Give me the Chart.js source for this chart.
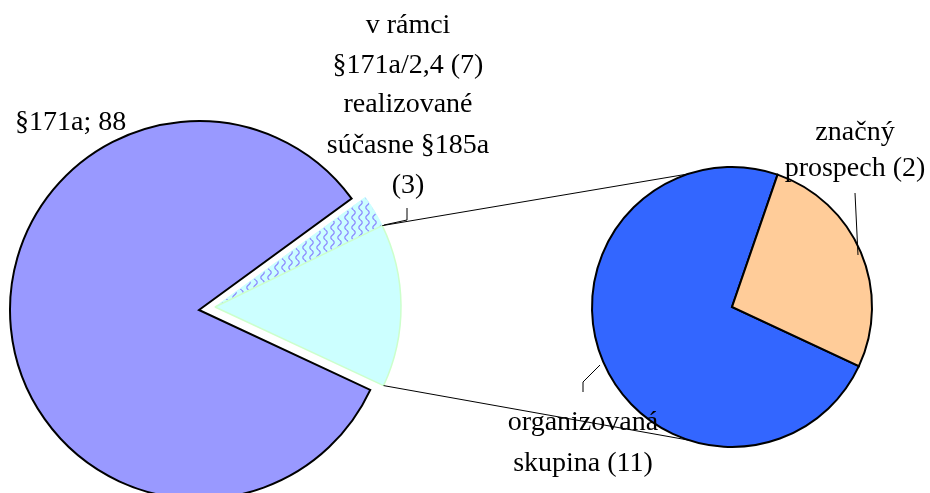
<!DOCTYPE html>
<html>
<head>
<meta charset="utf-8">
<script src="https://cdn.jsdelivr.net/npm/chart.js@4"></script>
<style>
body{margin:0;background:#fff;}
#wrap{position:relative;width:930px;height:493px;overflow:hidden;}
canvas{position:absolute;left:0;top:0;}
</style>
</head>
<body>
<div id="wrap">
<canvas id="mainA" width="930" height="493"></canvas>
<canvas id="mainB" width="930" height="493"></canvas>
<canvas id="second" width="930" height="493"></canvas>
</div>
<script>
'use strict';

// values
const mainCategories = ['§171a', 'v rámci §171a/2,4 (7) realizované súčasne §185a (3)', 'ostatné'];
const mainValues = [88, 3, 15];
const secondCategories = ['organizovaná skupina (11)', 'značný prospech (2)'];
const secondValues = [11, 4];

const labelLines = [
  ['§171a; 88'],
  ['v rámci', '§171a/2,4 (7)', 'realizované', 'súčasne §185a', '(3)'],
  ['organizovaná', 'skupina (11)'],
  ['značný', 'prospech (2)']
];

// label placement (x, align, baselines)
const labelPos = [
  {x: 15, align: 'left', y: [130]},
  {x: 408, align: 'center', y: [33, 73, 112, 153, 193]},
  {x: 583, align: 'center', y: [430, 471]},
  {x: 855, align: 'center', y: [140, 176]}
];
const leaders = [
  [[407, 208], [407, 220], [384, 225]],
  [[855, 193], [858, 255]],
  [[583, 392], [583, 382], [600, 365]]
];

function makePattern() {
  let c = document.createElement('canvas');
  c.width = 7; c.height = 10;
  let g = c.getContext('2d');
  g.fillStyle = '#CCFFFF';
  g.fillRect(0, 0, 7, 10);
  g.strokeStyle = '#8F8FFF';
  g.lineWidth = 1.3;
  g.beginPath();
  for (let y = 0; y <= 10; y++) {
    let x = 3.5 + 1.7 * Math.sin(y / 10 * 2 * Math.PI);
    if (y === 0) g.moveTo(x, y); else g.lineTo(x, y);
  }
  g.stroke();
  return g.createPattern(c, 'repeat');
}

const common = {
  responsive: false,
  animation: false,
  events: [],
  rotation: 115,
  plugins: {legend: {display: false}, tooltip: {enabled: false}}
};

const chartA = new Chart(document.getElementById('mainA'), {
  type: 'pie',
  data: {
    labels: mainCategories,
    datasets: [{
      data: mainValues,
      backgroundColor: ['#9999FF', 'rgba(0,0,0,0)', 'rgba(0,0,0,0)'],
      borderColor: '#000000',
      borderWidth: [2, 0, 0],
      borderJoinStyle: 'miter'
    }]
  },
  options: Object.assign({}, common, {
    radius: 189,
    layout: {padding: {left: 0, right: 532, top: 127, bottom: 0}}
  })
});

const chartB = new Chart(document.getElementById('mainB'), {
  type: 'pie',
  data: {
    labels: mainCategories,
    datasets: [{
      data: mainValues,
      backgroundColor: ['rgba(0,0,0,0)', makePattern(), '#CCFFFF'],
      borderColor: ['rgba(0,0,0,0)', '#CCFFFF', '#CCFFCC'],
      borderWidth: [0, 1, 1.5]
    }]
  },
  options: Object.assign({}, common, {
    radius: 186,
    layout: {padding: {left: 0, right: 500, top: 121, bottom: 0}}
  })
});

const overlay = {
  id: 'overlay',
  afterDraw(chart) {
    let ctx = chart.ctx;
    let other = chartB.getDatasetMeta(0).data[2];
    let sec = chart.getDatasetMeta(0).data[0];
    let r1 = other.outerRadius, r2 = sec.outerRadius;
    let a = 108 * Math.PI / 180;
    ctx.save();
    ctx.strokeStyle = '#000';
    ctx.lineWidth = 1;
    ctx.beginPath();
    ctx.moveTo(other.x + r1 * Math.cos(other.startAngle), other.y + r1 * Math.sin(other.startAngle));
    ctx.lineTo(sec.x + r2 * Math.cos(-a), sec.y + r2 * Math.sin(-a));
    ctx.moveTo(other.x + r1 * Math.cos(other.endAngle), other.y + r1 * Math.sin(other.endAngle));
    ctx.lineTo(sec.x + r2 * Math.cos(a), sec.y + r2 * Math.sin(a));
    ctx.stroke();
    ctx.beginPath();
    for (let i = 0; i < leaders.length; i++) {
      let pts = leaders[i];
      ctx.moveTo(pts[0][0], pts[0][1]);
      for (let j = 1; j < pts.length; j++) ctx.lineTo(pts[j][0], pts[j][1]);
    }
    ctx.stroke();
    ctx.fillStyle = '#000';
    ctx.font = '28px "Liberation Serif", "Times New Roman", serif';
    ctx.textBaseline = 'alphabetic';
    for (let i = 0; i < labelLines.length; i++) {
      ctx.textAlign = labelPos[i].align;
      for (let j = 0; j < labelLines[i].length; j++) {
        ctx.fillText(labelLines[i][j], labelPos[i].x, labelPos[i].y[j]);
      }
    }
    ctx.restore();
  }
};

const chartC = new Chart(document.getElementById('second'), {
  type: 'pie',
  data: {
    labels: secondCategories,
    datasets: [{
      data: secondValues,
      backgroundColor: ['#3366FF', '#FFCC99'],
      borderColor: '#000000',
      borderWidth: 2,
      borderJoinStyle: 'miter'
    }]
  },
  options: Object.assign({}, common, {
    radius: 140,
    layout: {padding: {left: 534, right: 0, top: 121, bottom: 0}}
  }),
  plugins: [overlay]
});
</script>
</body>
</html>
